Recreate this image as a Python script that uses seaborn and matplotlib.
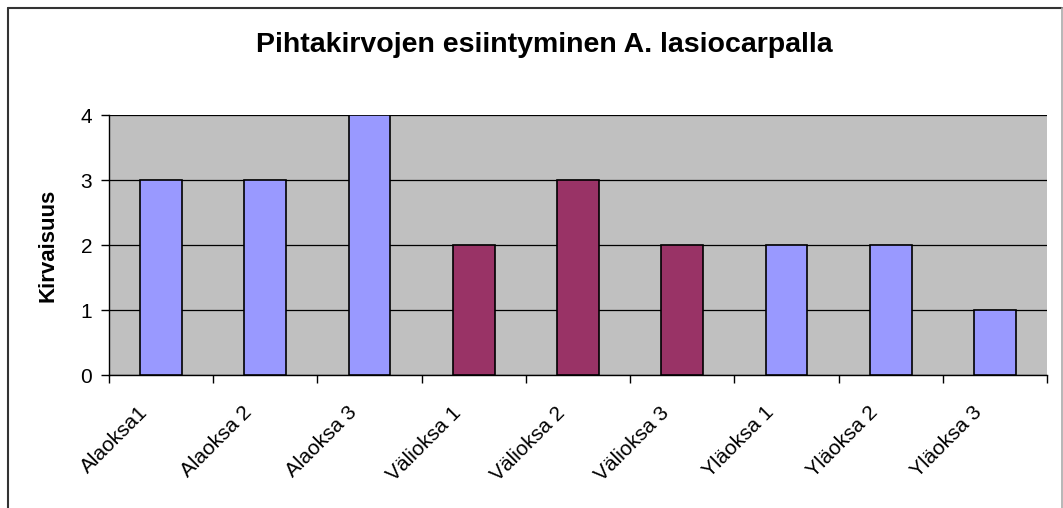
import matplotlib
matplotlib.use("Agg")
import matplotlib.pyplot as plt
import matplotlib.transforms as mtransforms
import numpy as np
import pandas as pd
import seaborn as sns

# Data
categories = ["Alaoksa1", "Alaoksa 2", "Alaoksa 3",
              "Välioksa 1", "Välioksa 2", "Välioksa 3",
              "Yläoksa 1", "Yläoksa 2", "Yläoksa 3"]
values = [3, 3, 4, 2, 3, 2, 2, 2, 1]
groups = ["Ala", "Ala", "Ala", "Väli", "Väli", "Väli", "Ylä", "Ylä", "Ylä"]
group_colors = {"Ala": "#9999FF", "Väli": "#993366", "Ylä": "#9999FF"}
y_ticks = [0, 1, 2, 3, 4]

df = pd.DataFrame({"osa": categories, "kirvaisuus": values, "ryhma": groups})

sns.set_theme(style="white")
plt.rcParams["font.family"] = ["Liberation Sans", "DejaVu Sans"]
plt.rcParams["text.color"] = "black"
plt.rcParams["xtick.color"] = "black"
plt.rcParams["ytick.color"] = "black"
plt.rcParams["axes.labelcolor"] = "black"

fig = plt.figure(figsize=(10.63, 5.08), dpi=100)
ax = fig.add_axes([0.1025, 0.2618, 0.8825, 0.5118])
ax.set_facecolor("#C0C0C0")

sns.barplot(data=df, x="osa", y="kirvaisuus", hue="osa",
            palette=[group_colors[g] for g in groups], legend=False,
            width=0.4, edgecolor="black", linewidth=1.2, saturation=1,
            ax=ax, zorder=3)

ax.set_ylim(0, 4)
ax.set_xlim(-0.5, len(categories) - 0.5)
ax.set_yticks(y_ticks)
ax.yaxis.grid(True, color="black", linewidth=0.9, zorder=0)
ax.set_axisbelow(True)

for side in ["top", "right"]:
    ax.spines[side].set_visible(False)
ax.spines["left"].set_color("black")
ax.spines["bottom"].set_color("black")
ax.spines["left"].set_linewidth(1.0)
ax.spines["bottom"].set_linewidth(1.0)

# ticks at category boundaries, labels at centres (Excel style)
ax.set_xticks(np.arange(len(categories)))
ax.set_xticklabels(categories, rotation=45, ha="right", va="center",
                   rotation_mode="anchor", fontsize=15)
ax.tick_params(axis="x", which="major", length=0, pad=25)
shift = mtransforms.ScaledTranslation(-16 / 100, 0, fig.dpi_scale_trans)
for lbl in ax.get_xticklabels():
    lbl.set_transform(lbl.get_transform() + shift)
ax.set_xticks(np.arange(-0.5, len(categories), 1), minor=True)
ax.tick_params(axis="x", which="minor", length=6, width=1,
               color="black", direction="out", bottom=True)
ax.tick_params(axis="y", length=6, width=1, color="black",
               direction="out", left=True, labelsize=15, pad=6)

ax.set_xlabel("")
ax.set_ylabel("Kirvaisuus", fontsize=16, fontweight="bold", labelpad=16)

fig.text(0.512, 0.911, "Pihtakirvojen esiintyminen A. lasiocarpalla",
         ha="center", va="center", fontsize=20.5, fontweight="bold")

# outer chart border
fig.add_artist(plt.Line2D([8 / 1063, 8 / 1063], [0, 1 - 7.5 / 508],
                          color="#333333", linewidth=1.5))
fig.add_artist(plt.Line2D([8 / 1063, 1062 / 1063], [1 - 7.5 / 508, 1 - 7.5 / 508],
                          color="#333333", linewidth=1.5))
fig.add_artist(plt.Line2D([1061.5 / 1063, 1061.5 / 1063], [0, 1 - 7.5 / 508],
                          color="#AAAAAA", linewidth=1.2))

fig.savefig("out.png", dpi=100)
